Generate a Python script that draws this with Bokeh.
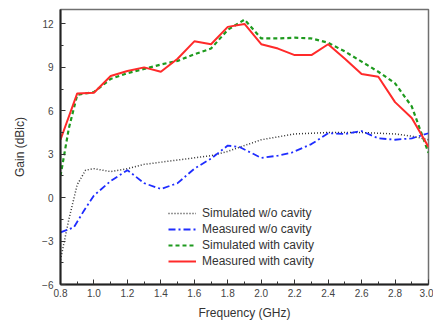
from bokeh.plotting import figure
from bokeh.models import Range1d, Legend, LegendItem, FixedTicker, NumeralTickFormatter
from bokeh.embed import file_html
from bokeh.resources import INLINE

# Gain vs frequency, with and without the backing cavity
freq_sim_wo = [0.8, 0.85, 0.9, 0.95, 1.0, 1.1, 1.2, 1.3, 1.4, 1.5, 1.6, 1.7, 1.8, 1.9,
               2.0, 2.1, 2.2, 2.3, 2.4, 2.5, 2.6, 2.7, 2.8, 2.9, 3.0]
gain_sim_wo = [-4.3, -1.5, 0.9, 1.9, 2.0, 1.8, 2.0, 2.3, 2.45, 2.6, 2.75, 2.9, 3.2, 3.6,
               4.0, 4.2, 4.4, 4.45, 4.5, 4.5, 4.5, 4.45, 4.4, 4.25, 4.0]

freq_meas_wo = [0.8, 0.88, 0.94, 1.0, 1.1, 1.2, 1.3, 1.4, 1.5, 1.6, 1.7, 1.8, 1.87,
                2.0, 2.1, 2.18, 2.3, 2.4, 2.5, 2.6, 2.7, 2.8, 2.9, 3.0]
gain_meas_wo = [-2.4, -2.05, -0.9, 0.15, 1.15, 1.9, 1.0, 0.6, 1.0, 2.0, 2.7, 3.6, 3.5,
                2.75, 2.9, 3.1, 3.7, 4.45, 4.4, 4.6, 4.1, 4.0, 4.1, 4.45]

freq_sim_cav = [0.8, 0.85, 0.9, 1.0, 1.1, 1.2, 1.3, 1.4, 1.5, 1.6, 1.7, 1.8, 1.9,
                2.0, 2.1, 2.2, 2.3, 2.4, 2.5, 2.6, 2.7, 2.8, 2.9, 3.0]
gain_sim_cav = [1.5, 4.8, 7.1, 7.3, 8.2, 8.6, 8.9, 9.2, 9.45, 9.9, 10.3, 11.6, 12.3,
                11.0, 11.0, 11.05, 11.0, 10.7, 10.1, 9.4, 8.7, 7.9, 6.3, 3.1]

freq_meas_cav = [0.8, 0.9, 1.0, 1.1, 1.2, 1.3, 1.4, 1.5, 1.6, 1.7, 1.8, 1.9,
                 2.0, 2.1, 2.2, 2.3, 2.4, 2.5, 2.6, 2.7, 2.8, 2.9, 3.0]
gain_meas_cav = [4.0, 7.2, 7.25, 8.4, 8.75, 9.0, 8.7, 9.6, 10.8, 10.6, 11.8, 12.0,
                 10.6, 10.3, 9.85, 9.85, 10.6, 9.6, 8.55, 8.35, 6.6, 5.5, 3.5]

x_ticks = [0.8, 1.0, 1.2, 1.4, 1.6, 1.8, 2.0, 2.2, 2.4, 2.6, 2.8, 3.0]
y_ticks = [-6, -3, 0, 3, 6, 9, 12]

series_names = ["Simulated w/o cavity", "Measured w/o cavity",
                "Simulated with cavity", "Measured with cavity"]

FONT = "Liberation Sans"

p = figure(width=433, height=322, output_backend="svg", toolbar_location=None,
           x_range=Range1d(0.8, 3.0), y_range=Range1d(-6, 13),
           min_border_left=60, min_border_right=5, min_border_top=9,
           min_border_bottom=37)
p.background_fill_color = "white"
p.border_fill_color = "white"
p.outline_line_color = "#707070"
p.outline_line_width = 1.5
p.xgrid.visible = False
p.ygrid.visible = False

r_sim_wo = p.line(freq_sim_wo, gain_sim_wo, line_color="#333333", line_width=1.5,
                  line_dash="1 2")
r_meas_wo = p.line(freq_meas_wo, gain_meas_wo, line_color="#1f2dff", line_width=1.8,
                   line_dash="7 3 2 3")
r_sim_cav = p.line(freq_sim_cav, gain_sim_cav, line_color="#1e9a1e", line_width=2.2,
                   line_dash="4 3")
r_meas_cav = p.line(freq_meas_cav, gain_meas_cav, line_color="#ff2a2a", line_width=2.0)

for ax in (p.xaxis[0], p.yaxis[0]):
    ax.axis_line_color = "#222222"
    ax.axis_line_width = 2
    ax.major_tick_in = 5
    ax.major_tick_out = 0
    ax.minor_tick_in = 3
    ax.minor_tick_out = 0
    ax.major_tick_line_color = "#333333"
    ax.minor_tick_line_color = "#333333"
    ax.major_label_text_font = FONT
    ax.major_label_text_font_size = "10px"
    ax.major_label_text_color = "#444444"
    ax.axis_label_text_font = FONT
    ax.axis_label_text_font_size = "12px"
    ax.axis_label_text_font_style = "normal"
    ax.axis_label_text_color = "#333333"

p.xaxis.ticker = FixedTicker(ticks=x_ticks,
                             minor_ticks=[round(0.9 + 0.2 * i, 1) for i in range(11)])
p.xaxis.formatter = NumeralTickFormatter(format="0.0")
p.yaxis.ticker = FixedTicker(ticks=y_ticks,
                             minor_ticks=[-4.5, -1.5, 1.5, 4.5, 7.5, 10.5])
p.xaxis.axis_label = "Frequency (GHz)"
p.yaxis.axis_label = "Gain (dBic)"
p.xaxis.major_label_standoff = 4
p.yaxis.major_label_standoff = 7
p.xaxis.axis_label_standoff = 6
p.yaxis.axis_label_standoff = 12

legend = Legend(items=[
    LegendItem(label=series_names[0], renderers=[r_sim_wo]),
    LegendItem(label=series_names[1], renderers=[r_meas_wo]),
    LegendItem(label=series_names[2], renderers=[r_sim_cav]),
    LegendItem(label=series_names[3], renderers=[r_meas_cav]),
], location=(106, 13))
legend.background_fill_alpha = 0
legend.border_line_alpha = 0
legend.padding = 2
legend.spacing = 0
legend.margin = 0
legend.glyph_width = 28
legend.glyph_height = 16
legend.label_height = 16
legend.label_standoff = 6
legend.label_text_font = FONT
legend.label_text_font_size = "12px"
legend.label_text_color = "#333333"
p.add_layout(legend, "center")

open("out.html", "w").write(file_html(p, INLINE))
